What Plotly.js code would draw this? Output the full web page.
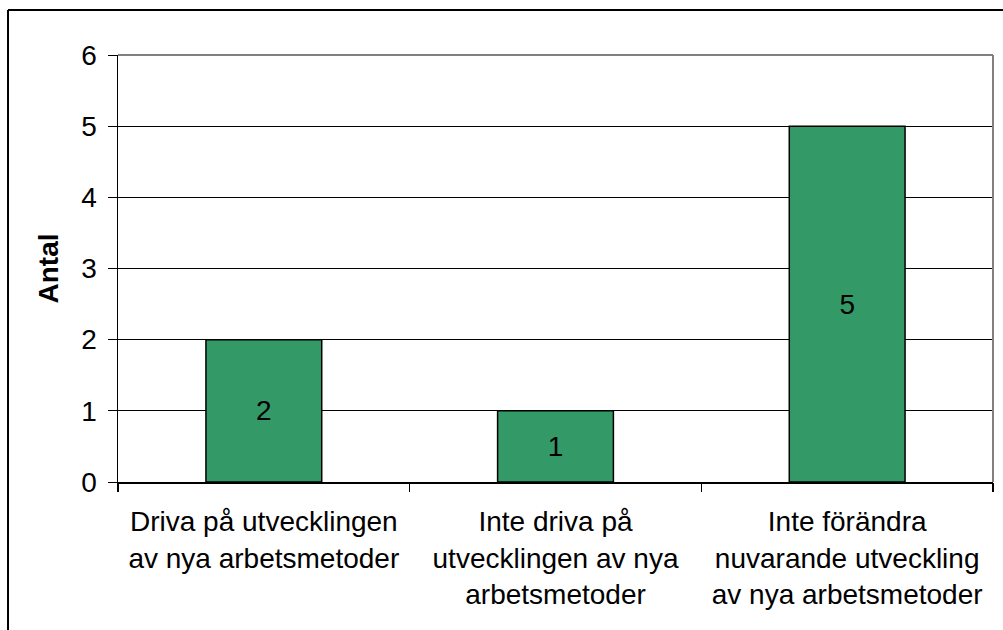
<!DOCTYPE html>
<html><head><meta charset="utf-8">
<script src="https://cdn.plot.ly/plotly-3.0.1.min.js"></script>
<style>html,body{margin:0;padding:0;background:#fff}#chart{width:1003px;height:630px}</style>
</head><body><div id="chart"></div>
<script>
const categories = ["Driva på utvecklingen<br>av nya arbetsmetoder", "Inte driva på<br>utvecklingen av nya<br>arbetsmetoder", "Inte förändra<br>nuvarande utveckling<br>av nya arbetsmetoder"];
const values = [2, 1, 5];
const yTicks = [0, 1, 2, 3, 4, 5, 6];
const boundaryTicks = [-0.5, 0.5, 1.5, 2.5];
const yTitle = "Antal";

const font = {family: "Arial, 'Liberation Sans', sans-serif", size: 28, color: "#000"};
const labelFont = {family: "Arial, 'Liberation Sans', sans-serif", size: 28, color: "#000", lineposition: "none"};

const traces = [
  {type: "bar", x: categories, y: values, text: values.map(String), textposition: "inside",
   insidetextanchor: "middle", textangle: 0, textfont: font, constraintext: "none",
   marker: {color: "#339966", line: {color: "#000", width: 1.5}}, hoverinfo: "none", cliponaxis: false},
  {type: "scatter", x: boundaryTicks, y: boundaryTicks.map(() => 0), xaxis: "x2", mode: "markers",
   marker: {opacity: 0}, hoverinfo: "none", showlegend: false}
];

const layout = {
  width: 1003, height: 630,
  margin: {l: 118, r: 10, t: 55, b: 148},
  paper_bgcolor: "#fff", plot_bgcolor: "#fff",
  showlegend: false, bargap: 0.603,
  font: font,
  xaxis: {type: "category", showgrid: false, ticks: "", showline: true, linecolor: "#000", linewidth: 1.5,
          tickfont: labelFont, ticklabelstandoff: 14, zeroline: false, fixedrange: true},
  xaxis2: {overlaying: "x", range: [-0.5, 2.5], tickvals: boundaryTicks, showticklabels: false,
           ticks: "outside", ticklen: 9, tickcolor: "#000", tickwidth: 1.5, showgrid: false, zeroline: false,
           showline: false, side: "bottom"},
  yaxis: {range: [0, 6], tickvals: yTicks, ticks: "outside", ticklen: 9, tickcolor: "#000", tickwidth: 1,
          showline: true, linecolor: "#000", linewidth: 1.5, showgrid: true, gridcolor: "#000", gridwidth: 1,
          zeroline: false, tickfont: font, ticklabelstandoff: 5,
          title: {text: "<b>" + yTitle + "</b>", font: font, standoff: 14}, automargin: false},
  shapes: [
    {type: "line", xref: "paper", yref: "paper", x0: 0, x1: 1, y0: 1, y1: 1, line: {color: "#808080", width: 2}},
    {type: "line", xref: "paper", yref: "paper", x0: 1, x1: 1, y0: 0, y1: 1, line: {color: "#808080", width: 2}},
    {type: "line", xref: "paper", yref: "paper", x0: -0.1257, x1: 1.2, y0: 1.1054, y1: 1.1054, line: {color: "#000", width: 2}},
    {type: "line", xref: "paper", yref: "paper", x0: -0.1257, x1: -0.1257, y0: -0.5, y1: 1.1054, line: {color: "#000", width: 2}}
  ]
};

Plotly.newPlot("chart", traces, layout, {displayModeBar: false, staticPlot: true});
</script></body></html>
